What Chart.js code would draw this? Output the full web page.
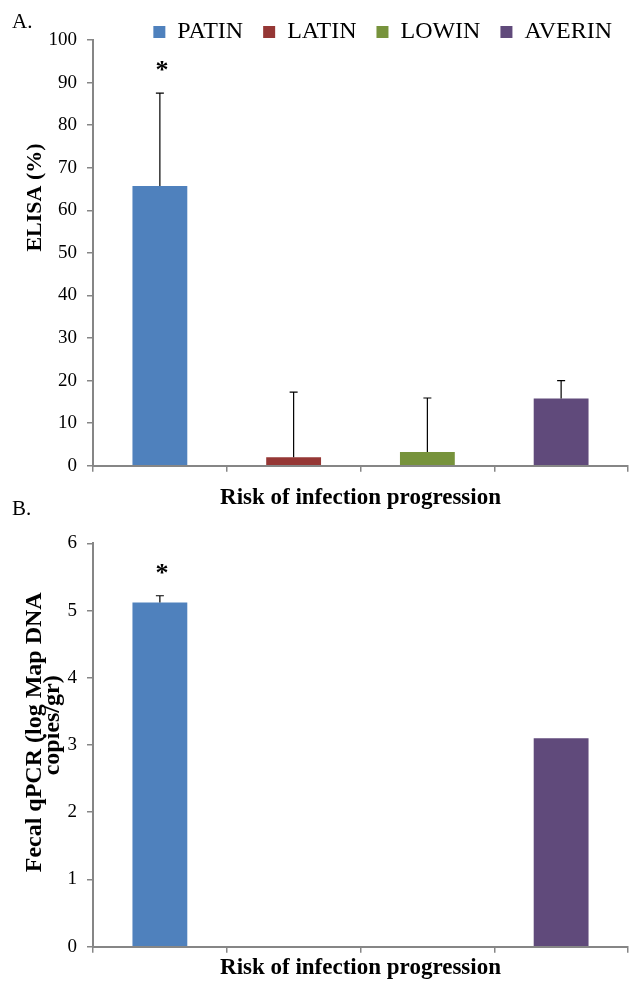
<!DOCTYPE html>
<html>
<head>
<meta charset="utf-8">
<title>ELISA and fecal qPCR by risk of infection progression</title>
<script src="https://cdn.jsdelivr.net/npm/chart.js@4.4.0/dist/chart.umd.min.js"></script>
<style>
  body { margin: 0; background: #fff; }
  #wrap { position: relative; width: 629px; height: 981px; overflow: hidden; font-family: "Liberation Serif", serif; }
  canvas { position: absolute; left: 0; }
  #chartA { top: 0; }
  #chartB { top: 500px; }
  .panel { position: absolute; left: 12px; font-size: 21px; line-height: 21px; color: #000; }
</style>
</head>
<body>
<div id="wrap">
  <canvas id="chartA" width="629" height="512"></canvas>
  <canvas id="chartB" width="629" height="481"></canvas>
  <div class="panel" style="top:11px">A.</div>
  <div class="panel" style="top:498px">B.</div>
</div>
<script>
const categories = ['PATIN', 'LATIN', 'LOWIN', 'AVERIN'];
const colors = ['#4F81BD', '#953735', '#77933C', '#604A7B'];

const elisaValues = [65.7, 2.0, 3.2, 15.8];
const elisaErrors = [21.8, 15.3, 12.7, 4.2];
const elisaTicks = [0, 10, 20, 30, 40, 50, 60, 70, 80, 90, 100];

const qpcrValues = [5.12, 0, 0, 3.1];
const qpcrErrors = [0.1, 0, 0, 0];
const qpcrTicks = [0, 1, 2, 3, 4, 5, 6];

const marks = ['*', '', '', ''];

const AXIS = '#868686';
Chart.defaults.font.family = '"Liberation Serif", serif';
Chart.defaults.color = '#000';

// one dataset per group so the legend lists them; nulls keep each bar centred in its slot
function barSets(values, errors) {
  return categories.map((name, i) => ({
    label: name,
    data: categories.map((_, j) => j === i ? values[i] : null),
    errors: categories.map((_, j) => j === i ? errors[i] : null),
    marks: categories.map((_, j) => j === i ? marks[i] : ''),
    backgroundColor: colors[i],
    borderWidth: 0,
    categoryPercentage: 1,
    barPercentage: 0.41,
    skipNull: true
  }));
}

function yAxis(ticks) {
  return {
    min: ticks[0],
    max: ticks[ticks.length - 1],
    afterBuildTicks: s => { s.ticks = ticks.map(v => ({ value: v })); },
    afterFit: s => { s.width = 93; },
    border: { color: AXIS, width: 2 },
    grid: { drawOnChartArea: false, color: AXIS, lineWidth: 1.5, tickLength: 6 },
    ticks: { font: { size: 19 }, color: '#000', padding: 10 }
  };
}

function xAxis(height, pad) {
  return {
    afterFit: s => { s.height = height; },
    border: { color: AXIS, width: 2 },
    grid: { drawOnChartArea: false, offset: true, color: AXIS, lineWidth: 1.5, tickLength: 6 },
    ticks: { display: false },
    title: {
      display: true,
      text: 'Risk of infection progression',
      color: '#000',
      font: { size: 23, weight: 'bold', lineHeight: 1 },
      padding: { top: 0, bottom: pad }
    }
  };
}

const errorBars = {
  id: 'errorBars',
  afterDatasetsDraw(chart) {
    const { ctx } = chart;
    const y = chart.scales.y;
    ctx.save();
    ctx.strokeStyle = '#000';
    ctx.fillStyle = '#000';
    ctx.lineWidth = 1.2;
    chart.data.datasets.forEach((ds, di) => {
      const meta = chart.getDatasetMeta(di);
      ds.data.forEach((v, i) => {
        if (v == null) return;
        const bar = meta.data[i];
        const err = ds.errors[i] || 0;
        const top = y.getPixelForValue(v + err);
        if (err > 0) {
          ctx.beginPath();
          ctx.moveTo(bar.x, bar.y);
          ctx.lineTo(bar.x, top);
          ctx.moveTo(bar.x - 4, top);
          ctx.lineTo(bar.x + 4, top);
          ctx.stroke();
        }
        if (ds.marks[i]) {
          ctx.font = 'bold 26px "Liberation Serif"';
          ctx.textAlign = 'center';
          ctx.textBaseline = 'alphabetic';
          ctx.fillText(ds.marks[i], bar.x + 2, top - 15);
        }
      });
    });
    ctx.restore();
  }
};

// rotated y-axis title, placed like the original (not centred on the plot)
const yTitle = {
  id: 'yTitle',
  afterDraw(chart, args, opts) {
    const { ctx, chartArea } = chart;
    ctx.save();
    ctx.font = opts.font;
    ctx.fillStyle = '#000';
    ctx.textAlign = 'center';
    ctx.textBaseline = 'middle';
    opts.lines.forEach((t, k) => {
      ctx.save();
      ctx.translate(opts.x[k], chartArea.top + opts.dy[k]);
      ctx.rotate(-Math.PI / 2);
      ctx.fillText(t, 0, 0);
      ctx.restore();
    });
    ctx.restore();
  }
};

// legend sits partly over the plot top, as in the original
const legendSpace = {
  id: 'legendSpace',
  beforeInit(chart) {
    if (!chart.legend) return;
    const fit = chart.legend.fit;
    chart.legend.fit = function () { fit.call(this); this.height = 40; };
  },
  afterLayout(chart) {
    if (!chart.legend) return;
    chart.legend.left += 4;
    chart.legend.right += 4;
  }
};

new Chart(document.getElementById('chartA'), {
  type: 'bar',
  data: { labels: categories, datasets: barSets(elisaValues, elisaErrors) },
  options: {
    responsive: false,
    animation: false,
    layout: { padding: { top: 0, right: 1, left: 0, bottom: 0 } },
    plugins: {
      legend: {
        align: 'end',
        labels: { font: { size: 24 }, color: '#000', boxWidth: 12, boxHeight: 12, padding: 20 }
      },
      tooltip: { enabled: false },
      yTitle: { lines: ['ELISA (%)'], x: [35.5], dy: [157.5], font: 'bold 22px "Liberation Serif"' }
    },
    scales: { x: xAxis(46.3, 2.5), y: yAxis(elisaTicks) }
  },
  plugins: [errorBars, yTitle, legendSpace]
});

new Chart(document.getElementById('chartB'), {
  type: 'bar',
  data: { labels: categories, datasets: barSets(qpcrValues, qpcrErrors) },
  options: {
    responsive: false,
    animation: false,
    layout: { padding: { top: 43.3, right: 1, left: 0, bottom: 0 } },
    plugins: {
      legend: { display: false },
      tooltip: { enabled: false },
      yTitle: {
        lines: ['Fecal qPCR (log Map DNA', 'copies/gr)'],
        x: [35, 53],
        dy: [189, 182],
        font: 'bold 24px "Liberation Serif"'
      }
    },
    scales: { x: xAxis(34.3, 1.5), y: yAxis(qpcrTicks) }
  },
  plugins: [errorBars, yTitle]
});
</script>
</body>
</html>
